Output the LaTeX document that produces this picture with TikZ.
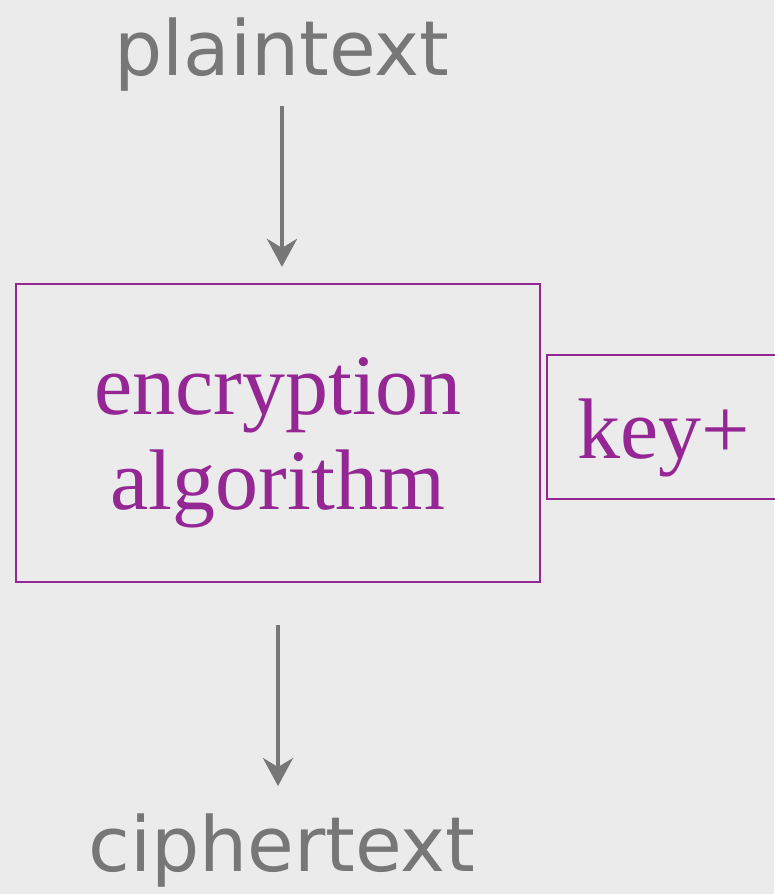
\documentclass[tikz,border=0pt]{standalone}
\usepackage{fontspec}
\setmainfont{Liberation Serif}
\newfontfamily\handfont{DejaVu Sans}
\usetikzlibrary{arrows.meta}
\definecolor{bgray}{HTML}{EBEBEB}
\definecolor{tgray}{HTML}{777777}
\definecolor{violet}{HTML}{952795}
\tikzstyle{lbl}=[text=tgray,font=\handfont\fontsize{76}{76}\selectfont,inner sep=0pt,anchor=base]
\tikzstyle{blk}=[draw=violet,line width=2.2pt,text=violet,font=\fontsize{86}{95}\selectfont,inner sep=0pt]
\tikzstyle{arr}=[-{Stealth[length=28pt,width=30pt,inset=9pt]},draw=tgray,line width=4.5pt]

\begin{document}
\begin{tikzpicture}[x=1pt,y=-1pt]
\fill[bgray] (0,0) rectangle (774,894);
\useasboundingbox (0,0) rectangle (774,894);
\node[lbl] (plain)  at (282,75) {plaintext};
\node[lbl] (cipher) at (282,871) {ciphertext};
\node[blk,text height=172pt,text depth=20pt,minimum width=524pt,minimum height=298pt] (algo) at (278,433)
  {\begin{tabular}[b]{@{}c@{}}encryption\\algorithm\end{tabular}};
\node[blk,align=left,text width=176pt,text height=82pt,text depth=19pt,minimum width=236pt,minimum height=144pt] (key) at (665,427)
  {key+};
\draw[arr,shorten <=15pt,shorten >=16pt] (plain.south) -- (plain.south |- algo.north);
\draw[arr,shorten <=42pt,shorten >=27pt] (algo.south) -- (algo.south |- cipher.north);
\end{tikzpicture}
\end{document}
